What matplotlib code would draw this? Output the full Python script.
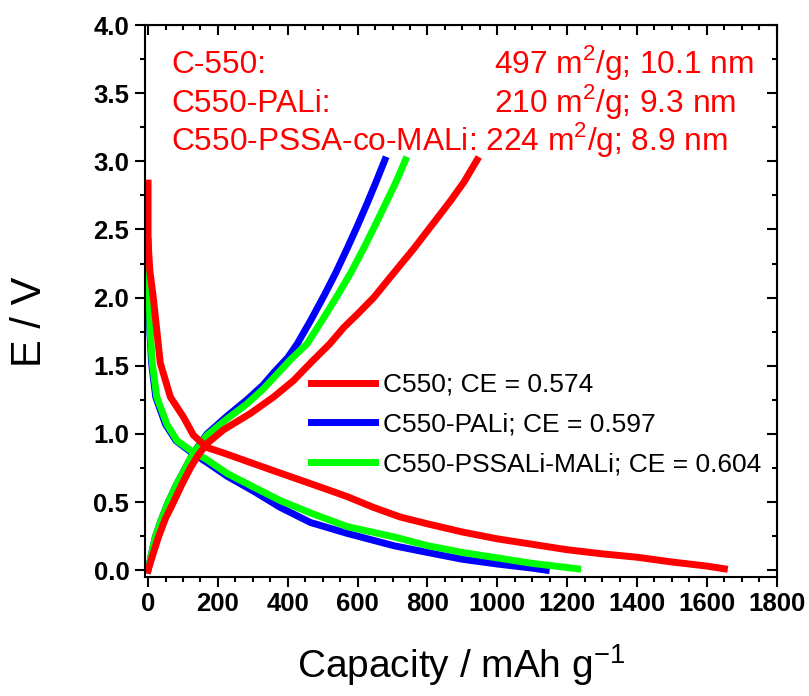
import numpy as np
import matplotlib
matplotlib.use("Agg")
import matplotlib.pyplot as plt
from matplotlib.ticker import MultipleLocator

plt.rcParams['font.family'] = ['Liberation Sans', 'DejaVu Sans']
plt.rcParams['mathtext.fontset'] = 'custom'
plt.rcParams['mathtext.rm'] = 'Liberation Sans'

# discharge (lithiation) branches: capacity in mAh/g, potential in V
c550_dis_cap = [0, 0, 5, 15, 25, 35, 64, 101, 130, 169, 216, 293, 359, 426, 493, 570,
                646, 722, 800, 900, 1000, 1100, 1200, 1300, 1400, 1500, 1600, 1650]
c550_dis_v = [2.84, 2.41, 2.2, 2.0, 1.76, 1.52, 1.27, 1.125, 0.99, 0.9, 0.86, 0.79,
              0.73, 0.67, 0.61, 0.54, 0.46, 0.39, 0.34, 0.28, 0.23, 0.19, 0.15, 0.12,
              0.095, 0.06, 0.03, 0.01]
pali_dis_cap = [0, 1, 3, 5, 10, 22, 50, 80, 121, 169, 226, 302, 379, 465, 570, 703,
                800, 900, 1000, 1100, 1140]
pali_dis_v = [2.41, 2.2, 2.0, 1.76, 1.52, 1.27, 1.07, 0.95, 0.87, 0.79, 0.69, 0.58,
              0.46, 0.35, 0.27, 0.18, 0.13, 0.08, 0.045, 0.015, 0.0]
pssa_dis_cap = [0, 1, 3, 6, 12, 25, 54, 83, 121, 169, 226, 302, 379, 465, 570, 703,
                800, 900, 1000, 1100, 1230]
pssa_dis_v = [2.41, 2.2, 2.0, 1.76, 1.52, 1.27, 1.07, 0.95, 0.88, 0.81, 0.71, 0.61,
              0.51, 0.42, 0.32, 0.245, 0.18, 0.13, 0.09, 0.05, 0.01]

# charge (delithiation) branches
c550_chg_cap = [0, 12, 30, 50, 73, 97, 121, 145, 169, 216, 293, 359, 416, 465, 520,
                560, 600, 646, 700, 761, 815, 866, 905, 942]
c550_chg_v = [0.0, 0.1, 0.245, 0.38, 0.5, 0.63, 0.75, 0.85, 0.93, 1.03, 1.15, 1.27,
              1.39, 1.52, 1.66, 1.78, 1.88, 2.0, 2.17, 2.36, 2.54, 2.71, 2.85, 3.01]
pali_chg_cap = [0, 10, 21, 38, 58, 82, 107, 130, 169, 226, 283, 330, 360, 400, 427,
                465, 503, 537, 570, 600, 627, 653, 678]
pali_chg_v = [0.0, 0.12, 0.245, 0.37, 0.5, 0.63, 0.75, 0.86, 1.0, 1.13, 1.25, 1.36,
              1.45, 1.56, 1.66, 1.83, 2.01, 2.18, 2.36, 2.53, 2.69, 2.85, 3.01]
pssa_chg_cap = [0, 10, 21, 38, 58, 82, 107, 130, 169, 226, 283, 330, 370, 410, 455,
                500, 541, 580, 617, 650, 684, 712, 737]
pssa_chg_v = [0.0, 0.12, 0.245, 0.37, 0.5, 0.63, 0.75, 0.86, 0.99, 1.11, 1.22, 1.33,
              1.44, 1.55, 1.66, 1.84, 2.01, 2.18, 2.36, 2.53, 2.71, 2.86, 3.01]

labels = ['C550; CE = 0.574', 'C550-PALi; CE = 0.597', 'C550-PSSALi-MALi; CE = 0.604']
colors = ['#FF0000', '#0000FF', '#00FF00']

samples = ['C-550:', 'C550-PALi:']
surface = ['497 m$^2$/g; 10.1 nm', '210 m$^2$/g; 9.3 nm']
last_row = 'C550-PSSA-co-MALi: 224 m$^2$/g; 8.9 nm'

fig = plt.figure(figsize=(8.09, 6.96), dpi=100)
ax = fig.add_axes([0.1787, 0.171, 0.7814, 0.793])

lw = 5
style = dict(lw=lw, solid_joinstyle='round')
h_blue, = ax.plot(pali_dis_cap, pali_dis_v, color=colors[1], **style)
ax.plot(pali_chg_cap, pali_chg_v, color=colors[1], **style)
h_green, = ax.plot(pssa_dis_cap, pssa_dis_v, color=colors[2], **style)
ax.plot(pssa_chg_cap, pssa_chg_v, color=colors[2], **style)
h_red, = ax.plot(c550_dis_cap, c550_dis_v, color=colors[0], **style)
ax.plot(c550_chg_cap, c550_chg_v, color=colors[0], **style)

ax.set_xlim(-10, 1800)
ax.set_ylim(-0.05, 4.0)
ax.xaxis.set_major_locator(MultipleLocator(200))
ax.xaxis.set_minor_locator(MultipleLocator(50))
ax.yaxis.set_major_locator(MultipleLocator(0.5))
ax.yaxis.set_minor_locator(MultipleLocator(0.25))
ax.yaxis.set_major_formatter(plt.FormatStrFormatter('%.1f'))

for side in ax.spines.values():
    side.set_linewidth(1.5)

# bottom/left ticks point out, mirrored top/right ticks point in
ax.tick_params(which='both', direction='out', width=1.5, labelsize=18.5, pad=4)
ax.tick_params(which='major', length=7)
ax.tick_params(which='minor', length=3.5)
for lab in ax.get_xticklabels() + ax.get_yticklabels():
    lab.set_fontweight('bold')

top = ax.secondary_xaxis('top')
top.xaxis.set_major_locator(MultipleLocator(200))
top.xaxis.set_minor_locator(MultipleLocator(50))
top.tick_params(which='both', direction='in', width=1.5, labeltop=False)
top.tick_params(which='major', length=7)
top.tick_params(which='minor', length=3.5)
right = ax.secondary_yaxis('right')
right.yaxis.set_major_locator(MultipleLocator(0.5))
right.yaxis.set_minor_locator(MultipleLocator(0.25))
right.tick_params(which='both', direction='in', width=1.5, labelright=False)
right.tick_params(which='major', length=7)
right.tick_params(which='minor', length=3.5)

ax.set_xlabel('Capacity / mAh g$^{-1}$', fontsize=28)
ax.set_ylabel('E / V', fontsize=30)
ax.xaxis.set_label_coords(0.5, -0.118)
ax.yaxis.set_label_coords(-0.149, 0.462)

# surface area / pore size notes
ys = [0.913, 0.843]
for s, v, y in zip(samples, surface, ys):
    ax.text(0.042, y, s, transform=ax.transAxes, color='red', fontsize=22.8, va='baseline')
    ax.text(0.553, y, v, transform=ax.transAxes, color='red', fontsize=22.8, va='baseline')
ax.text(0.042, 0.7735, last_row, transform=ax.transAxes, color='red', fontsize=22.8,
        va='baseline')

ax.legend([h_red, h_blue, h_green], labels, loc='upper left',
          bbox_to_anchor=(0.263, 0.370), frameon=False, fontsize=19,
          handlelength=2.45, handletextpad=0.27, labelspacing=0.6,
          borderpad=0, borderaxespad=0)

fig.savefig('out.png', dpi=100)
